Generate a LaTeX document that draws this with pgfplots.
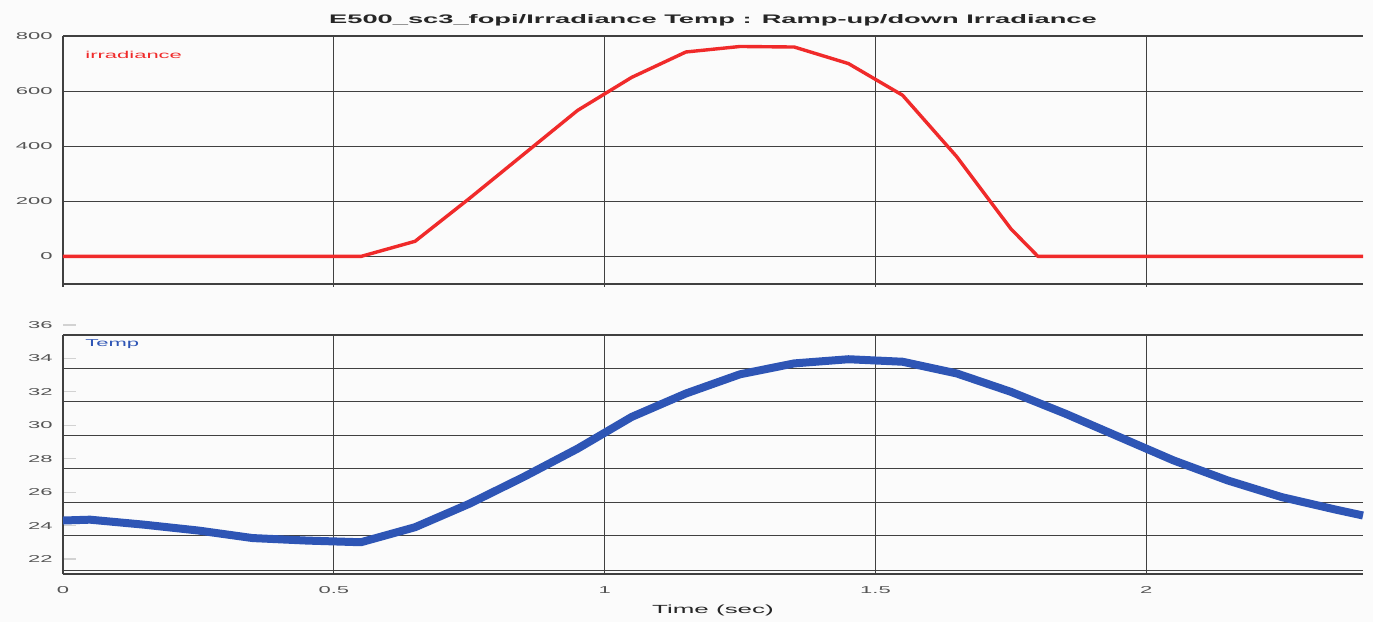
\documentclass[border=0pt]{standalone}
\usepackage{fontspec}
\setmainfont{Liberation Sans}[FakeStretch=2.2]
\usepackage{pgfplots}
\pgfplotsset{compat=1.18}
\definecolor{irr}{HTML}{F02A2A}
\definecolor{tmp}{HTML}{2E55B5}
\definecolor{grd}{HTML}{404040}
\definecolor{tl}{HTML}{555555}
\begin{document}
\begin{tikzpicture}
\fill[black!1.5] (-31.5pt,-24pt) rectangle (655pt,287pt);
\pgfplotsset{
 common/.style={
  scale only axis, width=650pt, xmin=0, xmax=2.4,
  axis x line*=bottom, axis y line*=left,
  x axis line style={-}, y axis line style={-},
  axis line style={grd, line width=0.6pt},
  xtick={0,0.5,1,1.5,2},
  /pgf/number format/assume math mode=true,
  tick label style={font=\fontsize{5}{6}\selectfont, text=tl},
  yticklabel style={inner sep=0pt, xshift=-5pt},
  xticklabel style={inner sep=0pt, yshift=-6pt},
  grid style={grd, line width=0.6pt},
  xmajorgrids,
  clip=false,
 }
}
\begin{axis}[common, at={(0,145pt)}, height=124pt,
  ymin=-100, ymax=800, ytick={0,200,400,600,800}, ymajorgrids,
  xticklabels={}, ytick style={draw=none},
  xtick style={grd, line width=0.6pt}, xtick align=outside, major tick length=1.5pt,
  every axis title shift=0pt,
  title={\bfseries E500\_sc3\_fopi/Irradiance Temp : Ramp-up/down Irradiance},
  title style={at={(0.5,1)}, anchor=center, yshift=8pt, font=\fontsize{6.2}{7}\selectfont\bfseries, text=black!85}]
\addplot[irr, line width=1.7pt, line join=round] coordinates {
(0,0) (0.55,0) (0.65,55) (0.75,210) (0.85,370) (0.95,530) (1.05,650)
(1.15,742) (1.25,762) (1.35,760) (1.45,700) (1.55,585) (1.65,362)
(1.75,100) (1.80,0) (2.4,0)};
\node[anchor=west, text=irr, font=\fontsize{5}{6}\selectfont, inner sep=0pt] at (rel axis cs:0,1) [xshift=11pt, yshift=-9.5pt] {irradiance};
\end{axis}
\begin{axis}[common, at={(0,0)}, height=119.5pt,
  ymin=21.1, ymax=35.4, ytick={22,24,...,34},
  ytick style={gray!35, line width=0.6pt}, ytick align=inside, major tick length=6.5pt,
  xtick style={draw=none},
  extra y ticks={21.3,23.4,25.4,27.4,29.4,31.4,33.4,35.4},
  extra y tick labels={},
  extra y tick style={grid=major, major tick length=0pt},
  xlabel={Time (sec)},
  xlabel style={at={(axis description cs:0.5,0)}, anchor=center, yshift=-18pt, font=\fontsize{5.9}{7}\selectfont, text=black!85}]
\addplot[tmp, line width=4pt, line join=round] coordinates {
(0,24.3) (0.05,24.35) (0.15,24.05) (0.25,23.7) (0.35,23.25) (0.45,23.1)
(0.55,23.0) (0.65,23.9) (0.75,25.3) (0.85,26.9) (0.95,28.6) (1.05,30.5)
(1.15,31.9) (1.25,33.05) (1.35,33.7) (1.45,33.95) (1.55,33.8) (1.65,33.1)
(1.75,32.0) (1.85,30.7) (1.95,29.3) (2.05,27.9) (2.15,26.7) (2.25,25.7)
(2.35,24.95) (2.4,24.6)};
\draw[gray!35, line width=0.6pt] (axis cs:0,36) -- ([xshift=6.5pt]axis cs:0,36);
\node[anchor=east, inner sep=0pt, xshift=-5pt, font=\fontsize{5}{6}\selectfont, text=tl] at (axis cs:0,36) {36};
\node[anchor=west, text=tmp, font=\fontsize{5}{6}\selectfont, inner sep=0pt] at (rel axis cs:0,1) [xshift=11pt, yshift=-4.5pt] {Temp};
\end{axis}
\pgfresetboundingbox
\useasboundingbox (-31.5pt,-24pt) rectangle (655pt,287pt);
\end{tikzpicture}
\end{document}
